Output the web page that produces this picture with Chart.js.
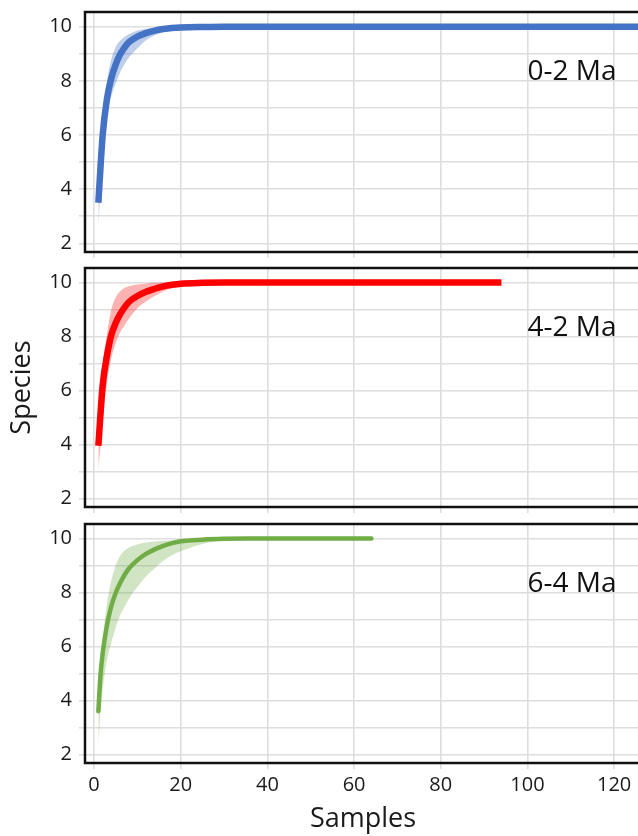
<!DOCTYPE html>
<html>
<head>
<meta charset="utf-8">
<script src="https://cdn.jsdelivr.net/npm/chart.js@4.4.0/dist/chart.umd.min.js"></script>
<style>
  html, body { margin: 0; padding: 0; background: #fff; overflow: hidden; }
  #wrap { position: relative; width: 638px; height: 836px; overflow: hidden; }
  canvas { position: absolute; left: 0; }
</style>
</head>
<body>
<div id="wrap">
  <canvas id="c1" width="646" height="262" style="top:0px"></canvas>
  <canvas id="c2" width="646" height="261" style="top:256px"></canvas>
  <canvas id="c3" width="646" height="324" style="top:512px"></canvas>
</div>
<script>
// tick values
var xTicks = [0, 20, 40, 60, 80, 100, 120];
var yTicks = [2, 3, 4, 5, 6, 7, 8, 9, 10];

// 0-2 Ma (blue)
var samples02 = [1, 2, 3, 4, 5, 6, 7, 8, 10, 12, 14, 16, 18, 20, 25, 30, 130];
var mean02  = [3.5, 6.0, 7.35, 8.1, 8.6, 8.97, 9.22, 9.42, 9.63, 9.76, 9.85, 9.91, 9.95, 9.97, 9.99, 10, 10];
var upper02 = [4.0, 6.6, 8.0, 8.8, 9.25, 9.48, 9.62, 9.72, 9.86, 9.92, 9.96, 9.98, 9.99, 10, 10, 10, 10];
var lower02 = [2.6, 5.4, 6.75, 7.45, 7.9, 8.3, 8.6, 8.85, 9.2, 9.5, 9.68, 9.8, 9.88, 9.93, 9.98, 10, 10];

// 4-2 Ma (red)
var samples42 = [1, 2, 3, 4, 5, 6, 7, 8, 10, 12, 14, 16, 18, 20, 25, 30, 94];
var mean42  = [3.95, 6.2, 7.3, 8.06, 8.5, 8.82, 9.07, 9.27, 9.5, 9.66, 9.77, 9.86, 9.92, 9.96, 9.99, 10, 10];
var upper42 = [4.6, 6.9, 8.1, 9.0, 9.45, 9.67, 9.8, 9.86, 9.93, 9.97, 9.99, 10, 10, 10, 10, 10, 10];
var lower42 = [3.0, 4.9, 6.3, 7.2, 7.75, 8.15, 8.4, 8.65, 9.05, 9.3, 9.5, 9.68, 9.8, 9.88, 9.97, 10, 10];

// 6-4 Ma (green)
var samples64 = [1, 1.5, 2, 3, 4, 5, 6, 7, 8, 10, 12, 14, 16, 18, 20, 25, 30, 35, 64];
var mean64  = [3.6, 4.95, 5.75, 6.8, 7.5, 7.98, 8.34, 8.64, 8.88, 9.2, 9.43, 9.6, 9.73, 9.83, 9.9, 9.96, 9.99, 10, 10];
var upper64 = [4.2, 5.3, 6.2, 7.6, 8.45, 9.0, 9.35, 9.55, 9.66, 9.78, 9.85, 9.89, 9.92, 9.94, 9.95, 9.99, 10, 10, 10];
var lower64 = [2.3, 3.6, 4.4, 5.5, 6.15, 6.7, 7.15, 7.45, 7.75, 8.2, 8.6, 8.9, 9.18, 9.38, 9.53, 9.8, 9.95, 10, 10];

Chart.defaults.font.family = '"Open Sans", sans-serif';
Chart.defaults.color = '#1a1a1a';

var GRID = '#dedede';

function pts(xs, ys) {
  return xs.map(function (x, i) { return { x: x, y: ys[i] }; });
}

// black box round the plot area + the period label
const framePlugin = {
  id: 'frame',
  afterDatasetsDraw(chart, args, opts) {
    const a = chart.chartArea;
    const ctx = chart.ctx;
    ctx.save();
    ctx.font = '28px "Open Sans", sans-serif';
    ctx.fillStyle = '#111';
    ctx.textBaseline = 'middle';
    ctx.textAlign = 'left';
    ctx.fillText(opts.label, chart.scales.x.getPixelForValue(100), a.top + 60);
    ctx.lineWidth = 2.5;
    ctx.strokeStyle = '#111';
    ctx.strokeRect(a.left, a.top, a.right - a.left, a.bottom - a.top);
    ctx.restore();
  }
};

function makeChart(id, label, xs, mean, upper, lower, color, band, cap, lineW, bottom, yTitle) {
  const ctx = document.getElementById(id).getContext('2d');
  return new Chart(ctx, {
    type: 'line',
    data: {
      datasets: [{
        data: pts(xs, mean),
        borderColor: color,
        borderWidth: lineW,
        borderCapStyle: cap,
        pointRadius: 0,
        fill: false,
        cubicInterpolationMode: 'monotone'
      }, {
        data: pts(xs, upper),
        borderWidth: 0,
        borderColor: 'transparent',
        backgroundColor: band,
        pointRadius: 0,
        fill: '+1',
        cubicInterpolationMode: 'monotone'
      }, {
        data: pts(xs, lower),
        borderWidth: 0,
        borderColor: 'transparent',
        pointRadius: 0,
        fill: false,
        cubicInterpolationMode: 'monotone'
      }]
    },
    options: {
      responsive: false,
      animation: false,
      devicePixelRatio: 1,
      events: [],
      layout: { padding: { top: 12, right: 5, left: 0, bottom: 0 } },
      plugins: {
        legend: { display: false },
        tooltip: { enabled: false },
        frame: { label: label }
      },
      scales: {
        x: {
          type: 'linear',
          min: -2.08,
          max: 126.2,
          afterBuildTicks: function (s) { s.ticks = xTicks.map(function (v) { return { value: v }; }); },
          afterFit: function (s) {
            s.height = bottom ? 73 : 10;
            s.paddingLeft = 0; s.paddingRight = 0; s.paddingTop = 0; s.paddingBottom = 0;
          },
          ticks: { display: bottom, autoSkip: false, maxRotation: 0, padding: 4, font: { size: 20 } },
          grid: { color: GRID, lineWidth: 1.6, drawTicks: true, tickLength: 6 },
          border: { display: false },
          title: { display: bottom, text: 'Samples', font: { size: 27 }, padding: { top: 0, bottom: 0 } }
        },
        y: {
          min: 1.68,
          max: 10.54,
          afterBuildTicks: function (s) { s.ticks = yTicks.map(function (v) { return { value: v }; }); },
          afterFit: function (s) {
            s.width = 85;
            s.paddingLeft = 0; s.paddingRight = 0; s.paddingTop = 0; s.paddingBottom = 0;
          },
          ticks: {
            autoSkip: false,
            padding: 7,
            font: { size: 20 },
            callback: function (v) { return v % 2 === 0 ? v : ''; }
          },
          grid: { color: GRID, lineWidth: 1.6, drawTicks: true, tickLength: 6 },
          border: { display: false },
          title: { display: !!yTitle, text: 'Species', font: { size: 27 }, padding: { top: 6, bottom: 0 } }
        }
      }
    },
    plugins: [framePlugin]
  });
}

makeChart('c1', '0-2 Ma', samples02, mean02, upper02, lower02, '#4472c4', 'rgba(68,114,196,0.35)', 'butt', 6.5, false, false);
makeChart('c2', '4-2 Ma', samples42, mean42, upper42, lower42, '#ff0000', 'rgba(255,0,0,0.3)', 'butt', 6.5, false, true);
makeChart('c3', '6-4 Ma', samples64, mean64, upper64, lower64, '#70ad47', 'rgba(112,173,71,0.32)', 'round', 4.5, true, false);
</script>
</body>
</html>
